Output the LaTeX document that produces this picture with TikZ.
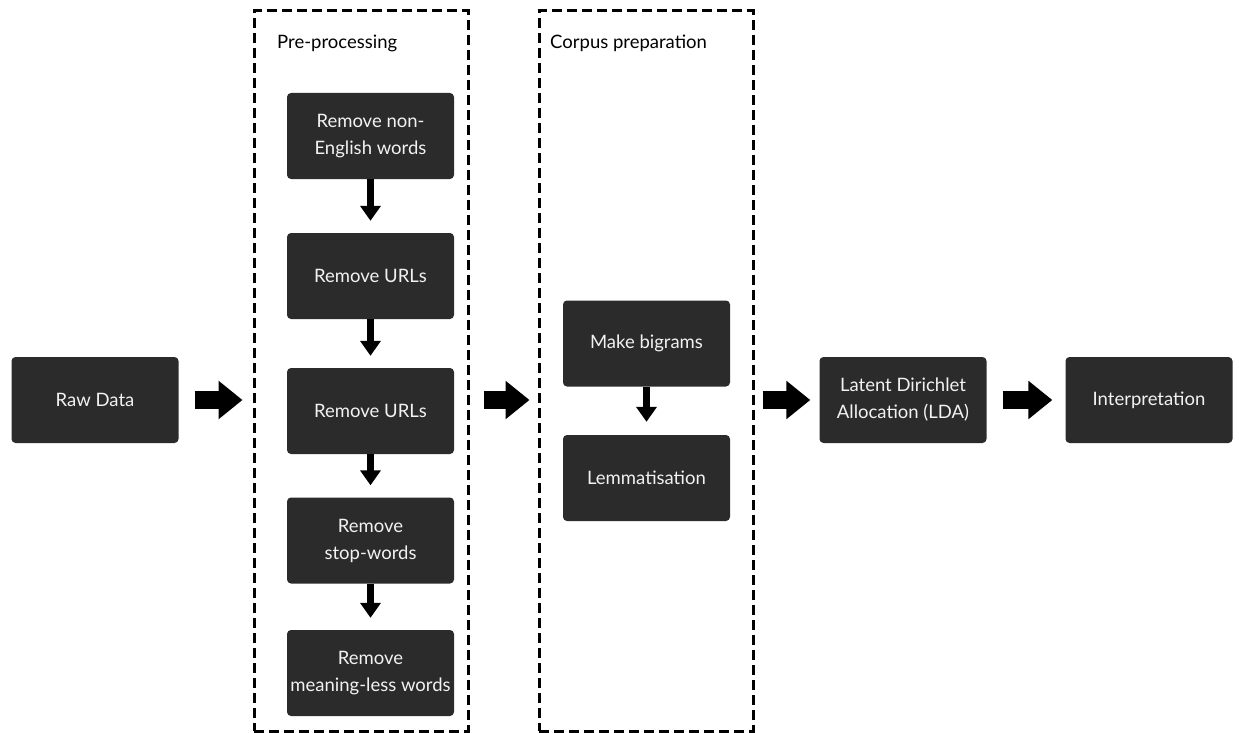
\documentclass[tikz,border=0pt]{standalone}
\usepackage{fontspec}
\setmainfont{Lato}
\usetikzlibrary{arrows.meta}
\definecolor{boxgray}{HTML}{2B2B2B}
\definecolor{boxtext}{HTML}{F2F2F2}
\begin{document}
\begin{tikzpicture}[x=1pt,y=-1pt,
  stepbox/.style={fill=boxgray, rounded corners=4pt, text=boxtext, align=center,
    minimum width=167pt, minimum height=86pt, inner sep=0pt,
    font=\fontsize{18.5}{27}\selectfont},
  stage/.style={draw, line width=3pt, dash pattern=on 10pt off 5pt,
    minimum width=214pt, minimum height=720pt, inner sep=0pt},
  stagelabel/.style={anchor=west, inner sep=0pt, font=\fontsize{18.5}{22}\selectfont},
  fatarrow/.style={line width=18pt, -{Triangle[length=24pt,width=37pt]}},
  thinarrow/.style={line width=7pt, -{Triangle[length=15pt,width=20pt]}},
]
\useasboundingbox (0,0) rectangle (1239,733);

% pipeline stages
\node[stepbox] (raw) at (95,400) {Raw Data};

\node[stage] (pre) at (361,371) {};
\node[stagelabel] (prelabel) at (277,43) {Pre-processing};
\node[stepbox] (p1) at (370.5,136) {Remove non-\\English words};
\node[stepbox] (p2) at (370.5,276) {Remove URLs};
\node[stepbox] (p3) at (370.5,411) {Remove URLs};
\node[stepbox] (p4) at (370.5,540.5) {Remove\\stop-words};
\node[stepbox] (p5) at (370.5,673) {Remove\\meaning-less words};

\node[stage] (corpus) at (646,371) {};
\node[stagelabel] (corplabel) at (550,43) {Corpus preparation};
\node[stepbox] (c1) at (646.5,343.5) {Make bigrams};
\node[stepbox] (c2) at (646.5,478) {Lemmatisation};

\node[stepbox] (lda) at (903,400) {Latent Dirichlet\\Allocation (LDA)};
\node[stepbox] (interp) at (1149,400) {Interpretation};

% flow between stages
\draw[fatarrow, shorten <=16pt, shorten >=10pt] (raw.east) -- (raw.east -| pre.west);
\draw[fatarrow, shorten <=14pt, shorten >=8pt] (pre.east |- raw.east) -- (corpus.west |- raw.east);
\draw[fatarrow, shorten <=8pt, shorten >=9pt] (corpus.east |- lda.west) -- (lda.west);
\draw[fatarrow, shorten <=16pt, shorten >=13pt] (lda.east) -- (interp.west);

% steps inside the stages
\draw[thinarrow, shorten >=12pt] (p1.south) -- (p2.north);
\draw[thinarrow, shorten >=12pt] (p2.south) -- (p3.north);
\draw[thinarrow, shorten >=12pt] (p3.south) -- (p4.north);
\draw[thinarrow, shorten >=12pt] (p4.south) -- (p5.north);
\draw[thinarrow, shorten >=13pt] (c1.south) -- (c2.north);
\end{tikzpicture}
\end{document}
